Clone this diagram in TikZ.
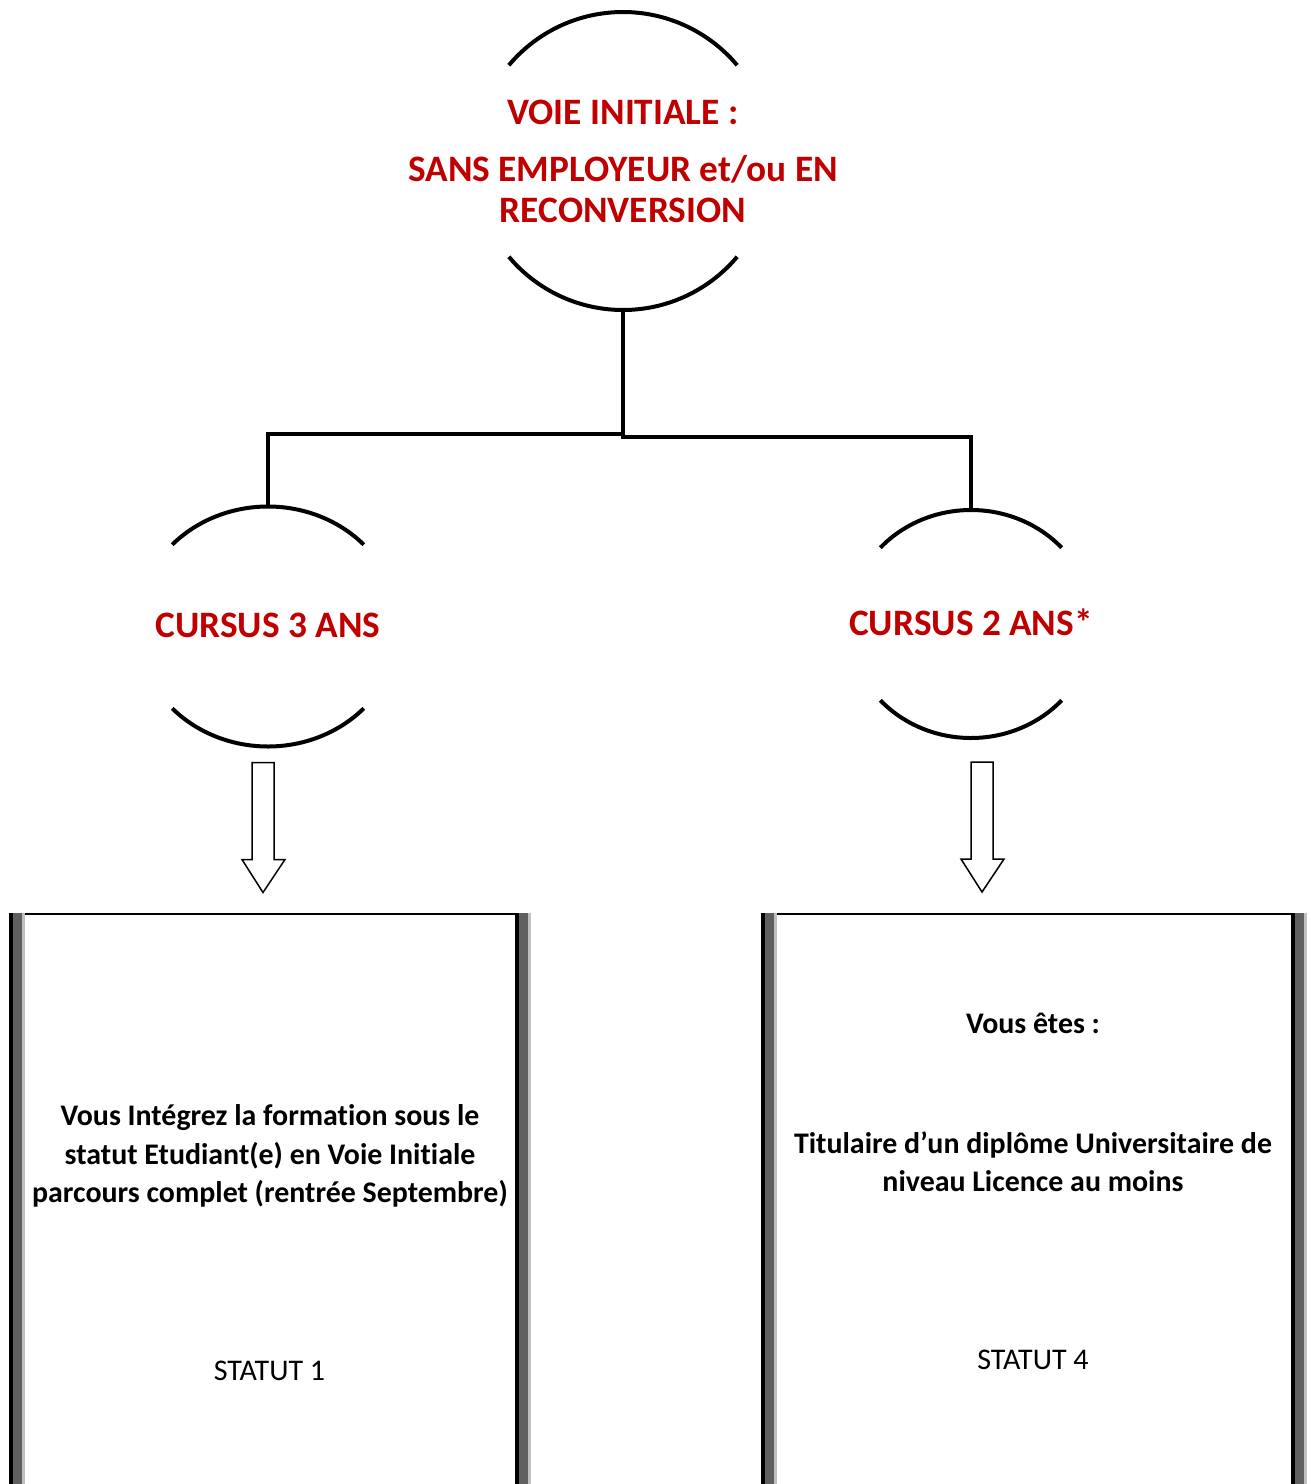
\documentclass[tikz,border=0pt]{standalone}
\usepackage{fontspec}
\setmainfont{Carlito}[Ligatures=CommonOff]
\usetikzlibrary{shapes.geometric}
\definecolor{rougeWord}{HTML}{C00000}
\definecolor{grisfonce}{HTML}{606060}
\definecolor{grisclair}{HTML}{C0C0C0}

\begin{document}
\begin{tikzpicture}[x=1pt,y=1pt,
	bulle/.style={ellipse,inner sep=0pt,outer sep=0pt},
	titre/.style={text=rougeWord,align=center,font=\fontsize{37.3}{41}\selectfont\bfseries},
	texte/.style={align=center,font=\fontsize{29.9}{38.3}\selectfont\bfseries},
	statut/.style={font=\fontsize{30}{34}\selectfont},
	contour/.style={line width=4pt},
	trait/.style={line width=4.5pt},
	creux/.style={line width=1.5pt,fill=white},
	boite/.style={minimum width=522pt,minimum height=571pt,inner sep=0pt,outer sep=0pt}]

\useasboundingbox (0,0) rectangle (1311,-1484);

% les bulles
\node[bulle,minimum width=298pt,minimum height=298pt,
	label={[titre]center:{VOIE INITIALE :\\[16pt]SANS EMPLOYEUR et/ou EN\\RECONVERSION}}] (voie) at (623,-161) {};
\node[bulle,minimum width=262pt,minimum height=240pt,
	label={[titre,yshift=1.5pt]center:{CURSUS 3 ANS}}] (cursus3) at (268,-626.5) {};
\node[bulle,minimum width=244pt,minimum height=228pt,
	label={[titre,yshift=1.5pt]center:{CURSUS 2 ANS*}}] (cursus2) at (971,-624) {};

\foreach \n/\a/\b/\t in {voie/149/149/40,cursus3/131/120/43,cursus2/122/114/42}{
	\draw[contour] ([shift={(\t:\a pt and \b pt)}]\n.center) arc[start angle=\t,delta angle=180-2*\t,x radius=\a pt,y radius=\b pt];
	\draw[contour] ([shift={(-\t:\a pt and \b pt)}]\n.center) arc[start angle=-\t,delta angle=-180+2*\t,x radius=\a pt,y radius=\b pt];
}

% les liens
\draw[trait] (voie.south) -- (voie.south |- 0,-437) -| (cursus2.north);
\draw[trait] (voie.south |- 0,-434) -| (cursus3.north);

% les boites
\node[boite] (boite1) at (270,-1198.5) {};
\node[boite,minimum width=546pt] (boite4) at (1034,-1198.5) {};

\foreach \b in {boite1,boite4}{
	\fill (\b.north west) rectangle ([yshift=-2pt]\b.north east);
	\foreach \c/\o in {west/0,east/-16}{
		\fill ([xshift=\o pt]\b.north \c) rectangle ([xshift=\o+4]\b.south \c);
		\fill[grisfonce] ([xshift=\o+4]\b.north \c) rectangle ([xshift=\o+13]\b.south \c);
		\fill[grisclair] ([xshift=\o+13]\b.north \c) rectangle ([xshift=\o+16]\b.south \c);
	}
}

\foreach \n/\dx/\dy in {cursus3/-16/-16,cursus2/0/-24}
	\draw[creux] ([shift={(\dx,\dy)}]\n.south) -- ++(22,0) -- ++(0,-97) -- ++(11,0) -- ++(-22,-33) -- ++(-21,33) -- ++(10,0) -- cycle;

% les textes
\node[texte] (statut1texte) at (270,-1156) {Vous Intégrez la formation sous le\\statut Etudiant(e) en Voie Initiale\\parcours complet (rentrée Septembre)};
\node[statut] (statut1) at (269.5,-1371) {STATUT 1};
\node[texte] (statut4texte) at (1033,-1102.5) {Vous êtes :\\[82pt]Titulaire d’un diplôme Universitaire de\\niveau Licence au moins};
\node[statut] (statut4) at (1033,-1360) {STATUT 4};
\end{tikzpicture}
\end{document}
